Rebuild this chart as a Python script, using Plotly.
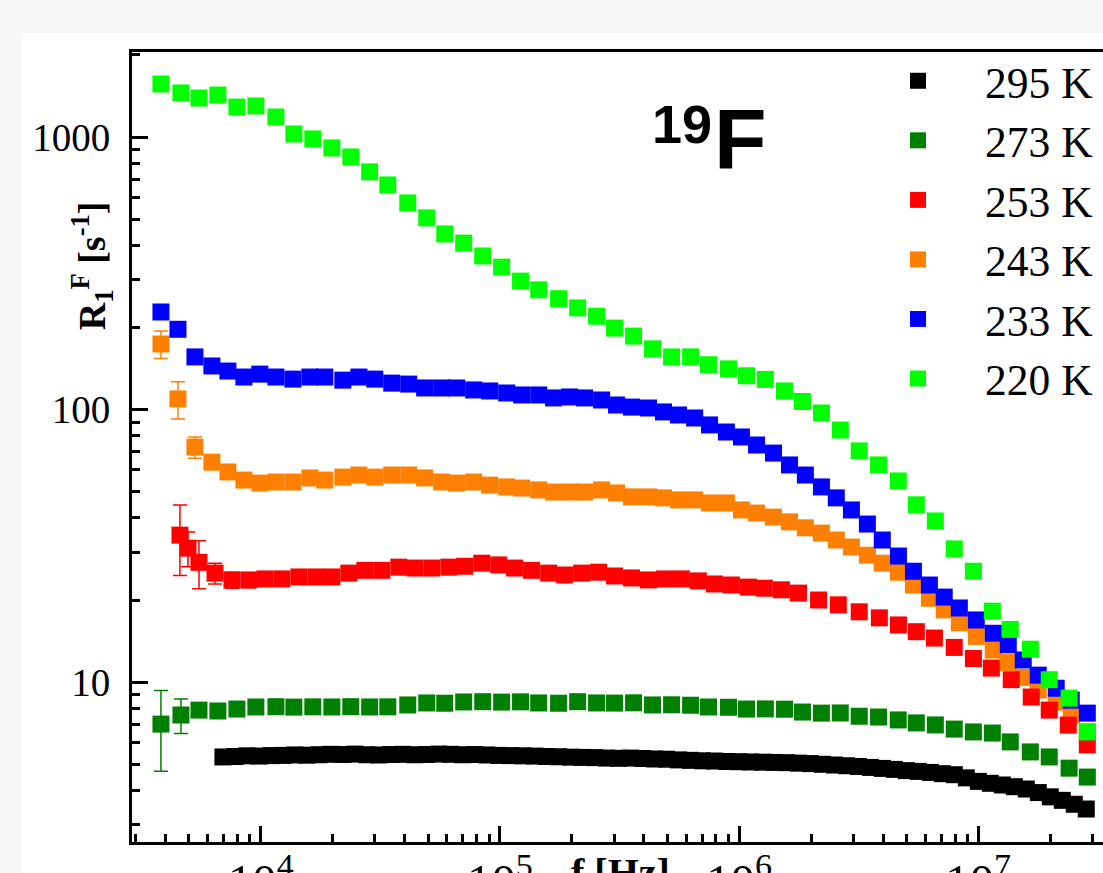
import plotly.graph_objects as go

# ---------------- data ----------------
# 295 K
f_295 = [6939, 7788, 8742, 9811, 11012, 12360, 13873, 15571, 17477, 19616,
         22016, 24710, 27734, 31131, 34938, 39215, 44015, 49405, 55447, 62240,
         69854, 78408, 88009, 98777, 110870, 124440, 139670, 156760, 175960, 197500,
         221670, 248800, 279260, 313440, 351800, 394850, 443190, 497430, 558310, 626650,
         703350, 789440, 886050, 994510, 1116400, 1252900, 1406300, 1578400, 1771600, 1988500,
         2231800, 2505000, 2811600, 3155800, 3542000, 3975500, 4462100, 5008300, 5621300, 6309300,
         7081500, 7948300, 8921000, 10013000, 11242000, 12617000, 14161000, 15894000, 17839000, 20023000,
         22474000, 25224000, 28312000]
r_295 = [5.31, 5.33, 5.36, 5.35, 5.37, 5.38, 5.40, 5.39, 5.41, 5.43,
         5.42, 5.44, 5.41, 5.40, 5.42, 5.43, 5.41, 5.42, 5.44, 5.43,
         5.41, 5.42, 5.40, 5.38, 5.37, 5.36, 5.35, 5.33, 5.32, 5.30,
         5.29, 5.28, 5.26, 5.25, 5.26, 5.24, 5.22, 5.21, 5.18, 5.16,
         5.14, 5.13, 5.11, 5.10, 5.09, 5.08, 5.07, 5.06, 5.04, 5.02,
         4.99, 4.96, 4.93, 4.90, 4.86, 4.82, 4.78, 4.73, 4.70, 4.66,
         4.61, 4.57, 4.45, 4.32, 4.25, 4.19, 4.13, 4.05, 3.93, 3.79,
         3.68, 3.56, 3.42]

# 273 K and 220 K (same frequency grid)
f_273 = [3820, 4630, 5510, 6610, 7940, 9530, 11560, 13740, 16490, 19810,
         23770, 28510, 33950, 41150, 49400, 58750, 70500, 84700, 101600, 121900,
         145200, 175800, 211300, 253500, 301400, 362000, 434500, 522000, 627000, 745000,
         903000, 1074000, 1288000, 1549000, 1841000, 2210000, 2650000, 3180000, 3830000, 4630000,
         5510000, 6620000, 7940000, 9550000, 11460000, 13620000, 16520000, 19820000, 24000000, 28600000]
r_273 = [7.01, 7.57, 7.89, 7.83, 7.96, 8.10, 8.12, 8.09, 8.11, 8.10,
         8.12, 8.10, 8.11, 8.24, 8.38, 8.36, 8.45, 8.47, 8.44, 8.46,
         8.38, 8.36, 8.47, 8.38, 8.37, 8.39, 8.24, 8.25, 8.22, 8.10,
         8.08, 7.96, 7.97, 7.95, 7.76, 7.69, 7.70, 7.49, 7.44, 7.26,
         7.08, 6.96, 6.72, 6.56, 6.50, 6.03, 5.54, 5.31, 4.83, 4.48]
e_273 = [2.3, 1.1, 0.3, 0.2, 0.2, 0.2, 0.2, 0.2, 0.2, 0.2,
         0.2, 0.2, 0.2, 0.2, 0.2, 0.2, 0.2, 0.2, 0.2, 0.2,
         0.2, 0.2, 0.2, 0.2, 0.2, 0.2, 0.2, 0.2, 0.2, 0.2,
         0.2, 0.2, 0.2, 0.2, 0.2, 0.2, 0.2, 0.2, 0.2, 0.2,
         0.2, 0.2, 0.2, 0.2, 0.2, 0.2, 0.2, 0.2, 0.2, 0.2]

f_220 = f_273
r_220 = [1565, 1451, 1390, 1426, 1288, 1300, 1184, 1026, 984, 912,
         845, 745, 667, 573, 505, 441, 408, 366, 333, 296,
         275, 255, 236, 220, 199, 186, 167, 156, 156, 146,
         141, 133, 129, 117, 107, 97.1, 84.1, 70.5, 62.6, 54.7,
         44.7, 39.0, 30.8, 25.5, 18.2, 15.6, 13.2, 10.2, 8.73, 6.56]

# 253 K
f_253 = [4587, 4955, 5510, 6430, 7570, 8910, 10400, 12240, 14420, 16980,
         19810, 23330, 27220, 32060, 37760, 44050, 51880, 61100, 71200, 83900,
         98800, 115100, 135600, 159800, 186400, 219500, 258500, 301400, 355000, 418000,
         488000, 574000, 676000, 789000, 929000, 1094000, 1276000, 1503000, 1771000,
         2150000, 2600000, 3180000, 3860000, 4640000, 5510000, 6560000, 7940000, 9550000, 11350000,
         13750000, 16670000, 19820000, 23800000, 28600000]
r_253 = [34.6, 31.0, 27.5, 25.1, 23.7, 23.7, 23.9, 23.9, 24.3, 24.3,
         24.3, 25.1, 25.7, 25.7, 26.4, 26.2, 26.2, 26.4, 26.6, 27.3,
         26.9, 26.2, 25.7, 25.1, 24.7, 25.1, 25.3, 24.5, 24.1, 23.7,
         23.9, 23.9, 23.5, 22.9, 22.7, 22.3, 22.1, 21.8, 21.2,
         20.0, 19.2, 18.1, 17.2, 16.2, 15.3, 14.5, 13.4, 12.2, 11.25,
         10.2, 8.81, 7.89, 6.95, 5.88]
e_253 = [10.0, 4.5, 5.5, 2.2, 1.6, 1.5, 1.3, 1.2, 1.2, 1.1,
         1.0, 1.1, 1.2, 1.1, 1.0, 1.0, 1.0, 1.0, 0.9, 0.9,
         0.8, 0.8, 0.8, 0.7, 0.7, 0.7, 0.7, 0.6, 0.6, 0.6,
         0.6, 0.6, 0.5, 0.5, 0.5, 0.5, 0.5, 0.5, 0.5,
         0.5, 0.5, 0.5, 0.5, 0.5, 0.5, 0.5, 0.5, 0.5, 0.5,
         0.5, 0.4, 0.4, 0.3, 0.3]

# 243 K and 233 K (same frequency grid)
f_243 = [3820, 4500, 5300, 6240, 7280, 8490, 9900, 11560, 13610, 16030,
         18510, 22020, 25700, 29950, 35260, 41520, 48420, 57020, 65900, 77600,
         90600, 106700, 123300, 145200, 167600, 195500, 225900, 266100, 307400, 355000,
         418000, 483000, 558000, 652000, 752000, 885000, 1023000, 1183000, 1393000, 1625000,
         1893000, 2210000, 2550000, 2950000, 3440000, 3970000, 4640000, 5360000, 6250000, 7210000,
         8340000, 9820000, 11560000, 13360000, 15430000, 17830000, 21200000, 24500000, 28600000]
r_243 = [174, 109.4, 72.8, 64.1, 59.0, 55.1, 53.7, 54.2, 54.2, 56.1,
         55.1, 56.5, 57.5, 56.5, 57.5, 57.5, 56.1, 54.2, 53.7, 54.2,
         52.8, 52.0, 51.5, 50.7, 49.8, 49.8, 49.8, 50.7, 49.4, 47.8,
         47.8, 47.4, 46.6, 46.6, 45.4, 45.4, 42.8, 41.7, 40.3, 38.7,
         36.8, 35.2, 33.2, 31.3, 29.2, 27.3, 25.3, 22.7, 20.3,
         18.4, 16.5, 14.7, 13.1, 11.8, 10.4, 9.35, 8.44, 7.57, 6.56]
e_243 = [20.0, 17.0, 6.5, 3.0, 2.0, 1.5, 1.2, 1.0, 1.0, 1.0,
         1.0, 1.0, 1.0, 1.0, 1.0, 1.0, 1.0, 1.0, 0.9, 0.9,
         0.9, 0.9, 0.9, 0.9, 0.8, 0.8, 0.8, 0.8, 0.8, 0.8,
         0.8, 0.8, 0.8, 0.8, 0.8, 0.8, 0.7, 0.7, 0.7, 0.7,
         0.7, 0.6, 0.6, 0.6, 0.6, 0.5, 0.5, 0.5, 0.5,
         0.5, 0.5, 0.4, 0.4, 0.4, 0.4, 0.3, 0.3, 0.3, 0.3]

f_233 = f_243
r_233 = [228, 197, 156, 144.5, 138.4, 131.6, 134.9, 131.6, 129.3, 131.6,
         131.6, 128.2, 131.6, 129.3, 125.0, 124.0, 120.0, 120.0, 120.0, 118.0,
         117.0, 115.0, 113.1, 113.1, 110.3, 111.2, 110.3, 108.4, 103.9, 102.1,
         101.3, 98.0, 95.5, 93.1, 87.8, 82.7, 79.3, 74.1, 69.2, 62.6,
         57.5, 52.0, 47.4, 42.8, 38.0, 33.2, 29.0, 25.5, 22.7, 20.5,
         18.7, 16.9, 15.1, 13.7, 12.05, 10.6, 9.49, 8.58, 7.69]

legend_names = ["295 K", "273 K", "253 K", "243 K", "233 K", "220 K"]
colors = ["#000000", "#008000", "#ff0000", "#ff8000", "#0000ff", "#00ff00"]

# ---------------- figure ----------------
fig = go.Figure()

def add(name, f, r, err, color, rank):
    kw = {}
    if err is not None:
        kw["error_y"] = dict(type="data", array=err, visible=True, color=color,
                             thickness=1.5, width=7)
    fig.add_trace(go.Scatter(
        x=f, y=r, mode="markers", name=name, legendrank=rank,
        marker=dict(symbol="square", size=17, color=color, line=dict(width=0)),
        **kw))

# drawing order (legend order set by legendrank)
add(legend_names[0], f_295, r_295, None, colors[0], 1)
add(legend_names[1], f_273, r_273, e_273, colors[1], 2)
add(legend_names[3], f_243, r_243, e_243, colors[3], 4)
add(legend_names[4], f_233, r_233, None, colors[4], 5)
add(legend_names[2], f_253, r_253, e_253, colors[2], 3)
add(legend_names[5], f_220, r_220, None, colors[5], 6)

serif = "Liberation Serif"
axis_common = dict(
    type="log", showline=True, linecolor="black", linewidth=3,
    ticks="inside", ticklen=16, tickwidth=2.5, tickcolor="black",
    showgrid=False, zeroline=False, dtick=1, automargin=False,
    tickfont=dict(family=serif, size=39, color="black"),
    minor=dict(ticks="inside", ticklen=8, tickwidth=2.5, tickcolor="black",
               dtick="D1", showgrid=False),
)

fig.update_layout(
    width=1103, height=873,
    margin=dict(l=132, r=0, t=52, b=31, pad=0, autoexpand=False),
    paper_bgcolor="#f6f6f6", plot_bgcolor="white",
    showlegend=True,
    legend=dict(x=0.7405, y=1.0076, xanchor="left", yanchor="top",
                font=dict(family=serif, size=43.5, color="black"),
                bgcolor="rgba(0,0,0,0)", itemwidth=124, borderwidth=0),
    xaxis=dict(axis_common, range=[3.461, 7.522], mirror=True,
               exponentformat="power", ticklabelstandoff=-4),
    yaxis=dict(axis_common, range=[0.413, 3.312], mirror=False,
               exponentformat="none", ticklabelstandoff=11),
    shapes=[dict(type="rect", xref="paper", yref="paper",
                 x0=-0.1133, x1=1.2, y0=-0.2, y1=1.0241,
                 fillcolor="white", line=dict(width=0), layer="below")],
    annotations=[
        dict(text="<b>19</b>", xref="paper", yref="paper", x=0.5664, y=0.9089,
             xanchor="center", yanchor="middle", showarrow=False,
             font=dict(family="Liberation Sans", size=54, color="black")),
        dict(text="<b>F</b>", xref="paper", yref="paper", x=0.5973, y=0.8905,
             xanchor="left", yanchor="middle", showarrow=False,
             font=dict(family="Liberation Sans", size=86, color="black")),
        dict(text="<b>R<sub>1</sub><sup>F</sup> [s<sup>-1</sup>]</b>",
             xref="paper", yref="paper", x=-0.0412, y=0.730,
             xanchor="center", yanchor="middle", textangle=-90, showarrow=False,
             font=dict(family=serif, size=38, color="black")),
        dict(text="<b>f [Hz]</b>", xref="paper", yref="paper", x=0.5036, y=-0.0076,
             xanchor="center", yanchor="top", showarrow=False,
             font=dict(family=serif, size=40, color="black")),
    ],
)

fig.write_html("out.html")
